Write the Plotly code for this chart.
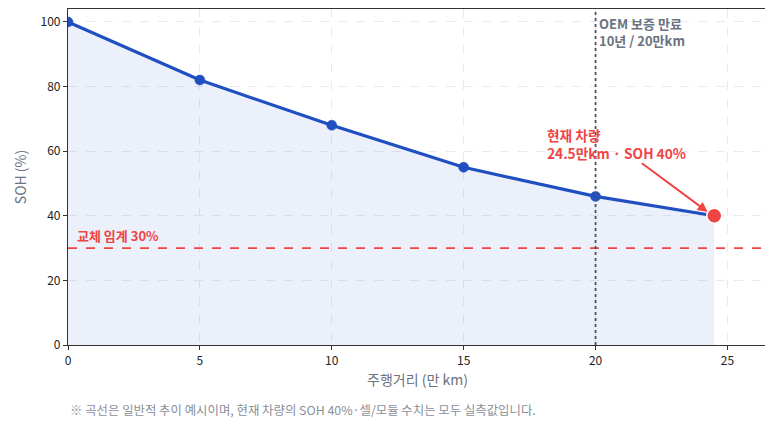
import plotly.graph_objects as go

# SOH curve (typical trend) — distance in 10,000 km, SOH in %
distance = [0, 5, 10, 15, 20, 24.5]
soh = [100, 82, 68, 55, 46, 40]

current_km = 24.5
current_soh = 40
warranty_km = 20
threshold = 30

x_ticks = [0, 5, 10, 15, 20, 25]
y_ticks = [0, 20, 40, 60, 80, 100]

FONT = "Noto Sans CJK KR, Noto Sans, sans-serif"
BLUE = "#1f4fc1"
RED = "#ef4444"
GRAY = "#6b7280"

fig = go.Figure()

# shaded area under the curve
fig.add_trace(go.Scatter(
    x=distance, y=soh, mode="none", fill="tozeroy",
    fillcolor="rgba(59,110,220,0.10)", hoverinfo="skip", showlegend=False,
))

# main line
fig.add_trace(go.Scatter(
    x=distance, y=soh, mode="lines",
    line=dict(color=BLUE, width=3.2),
    showlegend=False,
))

# sample points (the current point gets its own marker)
fig.add_trace(go.Scatter(
    x=distance[:-1], y=soh[:-1], mode="markers",
    marker=dict(color=BLUE, size=10, opacity=1, line=dict(color=BLUE, width=0.5)),
    showlegend=False,
))

# current vehicle
fig.add_trace(go.Scatter(
    x=[current_km], y=[current_soh], mode="markers",
    marker=dict(color=RED, size=15, opacity=1, line=dict(color="white", width=1.5)),
    showlegend=False,
))

fig.add_hline(y=threshold, line_dash="dash", line_color=RED, line_width=1.8)
fig.add_vline(x=warranty_km, line_dash="dot", line_color="#4b5563", line_width=1.8)

fig.add_annotation(x=0.25, y=threshold, text="<b>교체 임계 30%</b>", showarrow=False,
                   xanchor="left", yanchor="bottom", yshift=1,
                   font=dict(color=RED, size=13, family=FONT))
fig.add_annotation(x=warranty_km, y=103, text="<b>OEM 보증 만료<br>10년 / 20만km</b>",
                   showarrow=False, xanchor="left", yanchor="top", xshift=1, align="left",
                   font=dict(color=GRAY, size=13, family=FONT))
fig.add_annotation(x=18.1, y=68.8, text="<b>현재 차량<br>24.5만km · SOH 40%</b>",
                   showarrow=False, xanchor="left", yanchor="top", align="left",
                   font=dict(color=RED, size=13.7, family=FONT))
fig.add_annotation(x=24.25, y=41.2, ax=21.7, ay=56.6, axref="x", ayref="y",
                   text="", showarrow=True, arrowhead=2, arrowsize=1,
                   arrowwidth=2, arrowcolor=RED)

# footnote
fig.add_annotation(x=0, y=-0.16, xref="paper", yref="paper", showarrow=False,
                   xanchor="left", yanchor="top",
                   text="※ 곡선은 일반적 추이 예시이며, 현재 차량의 SOH 40%·셀/모듈 수치는 모두 실측값입니다.",
                   font=dict(color="#8a8f98", size=12.4, family=FONT))

axis_common = dict(
    showline=True, linecolor="#333333", linewidth=1.2, mirror=True,
    showgrid=True, gridcolor="#e8eaee", griddash="dash", gridwidth=1,
    ticks="outside", ticklen=4, tickcolor="#333333", zeroline=False,
    tickfont=dict(color="#222222", size=12, family=FONT),
)

# page body adds an 8px offset, so the figure is sized to fit the window
fig.update_layout(
    width=765, height=418,
    margin=dict(l=60, r=6, t=1, b=81),
    paper_bgcolor="white", plot_bgcolor="white",
    font=dict(family=FONT),
    xaxis=dict(range=[0, 26.5], tickvals=x_ticks,
               title=dict(text="주행거리 (만 km)", font=dict(color=GRAY, size=14, family=FONT), standoff=8),
               **axis_common),
    yaxis=dict(range=[0, 104], tickvals=y_ticks,
               title=dict(text="SOH (%)", font=dict(color=GRAY, size=14, family=FONT), standoff=10),
               **axis_common),
)

fig.write_html("out.html")
